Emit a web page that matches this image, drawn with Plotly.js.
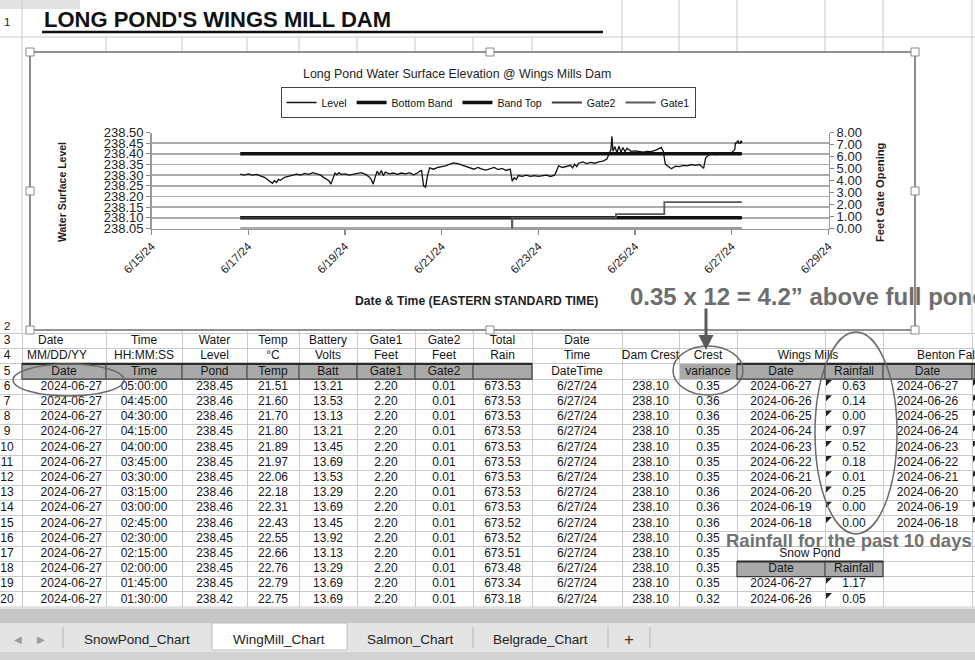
<!DOCTYPE html>
<html><head><meta charset="utf-8">
<script src="https://cdn.plot.ly/plotly-3.0.1.min.js"></script>
<style>html,body{margin:0;padding:0;background:#fff;overflow:hidden;}#chart{width:975px;height:660px;}</style>
</head><body><div id="chart"></div>
<script>
// ---------------- chart data ----------------
const levelTime = [
"2024-06-16 20:00","2024-06-16 22:00","2024-06-17 00:00","2024-06-17 02:00","2024-06-17 04:00","2024-06-17 06:00",
"2024-06-17 08:00","2024-06-17 09:00","2024-06-17 10:00","2024-06-17 11:00","2024-06-17 12:00","2024-06-17 13:00",
"2024-06-17 14:00","2024-06-17 15:00","2024-06-17 16:00","2024-06-17 18:00","2024-06-17 20:00","2024-06-17 22:00",
"2024-06-18 00:00","2024-06-18 02:00","2024-06-18 04:00","2024-06-18 06:00","2024-06-18 08:00","2024-06-18 10:00",
"2024-06-18 12:00","2024-06-18 13:00","2024-06-18 14:00","2024-06-18 15:00","2024-06-18 16:00","2024-06-18 17:00",
"2024-06-18 18:00","2024-06-18 19:00","2024-06-18 20:00","2024-06-18 21:00","2024-06-18 22:00","2024-06-19 00:00",
"2024-06-19 02:00","2024-06-19 04:00","2024-06-19 06:00","2024-06-19 08:00","2024-06-19 10:00","2024-06-19 11:00",
"2024-06-19 12:00","2024-06-19 13:00","2024-06-19 14:00","2024-06-19 15:00","2024-06-19 16:00","2024-06-19 17:00",
"2024-06-19 18:00","2024-06-19 19:00","2024-06-19 20:00","2024-06-19 22:00","2024-06-20 00:00","2024-06-20 02:00",
"2024-06-20 04:00","2024-06-20 06:00","2024-06-20 08:00","2024-06-20 10:00","2024-06-20 12:00","2024-06-20 13:00",
"2024-06-20 14:00","2024-06-20 15:00","2024-06-20 16:00","2024-06-20 17:00","2024-06-20 18:00","2024-06-20 20:00",
"2024-06-20 22:00","2024-06-21 00:00","2024-06-21 02:00","2024-06-21 04:00","2024-06-21 06:00","2024-06-21 08:00",
"2024-06-21 10:00","2024-06-21 12:00","2024-06-21 14:00","2024-06-21 16:00","2024-06-21 18:00","2024-06-21 20:00",
"2024-06-21 22:00","2024-06-22 00:00","2024-06-22 02:00","2024-06-22 04:00","2024-06-22 06:00","2024-06-22 08:00",
"2024-06-22 10:00","2024-06-22 11:00","2024-06-22 12:00","2024-06-22 13:00","2024-06-22 14:00","2024-06-22 16:00",
"2024-06-22 18:00","2024-06-22 20:00","2024-06-22 22:00","2024-06-23 00:00","2024-06-23 02:00","2024-06-23 04:00",
"2024-06-23 06:00","2024-06-23 08:00","2024-06-23 09:00","2024-06-23 10:00","2024-06-23 12:00","2024-06-23 14:00",
"2024-06-23 16:00","2024-06-23 17:00","2024-06-23 18:00","2024-06-23 19:00","2024-06-23 20:00","2024-06-23 22:00",
"2024-06-24 00:00","2024-06-24 02:00","2024-06-24 04:00","2024-06-24 06:00","2024-06-24 08:00","2024-06-24 10:00",
"2024-06-24 11:00","2024-06-24 12:00","2024-06-24 12:30","2024-06-24 13:00","2024-06-24 14:00","2024-06-24 15:00",
"2024-06-24 16:00","2024-06-24 17:00","2024-06-24 18:00","2024-06-24 19:00","2024-06-24 20:00","2024-06-24 22:00",
"2024-06-25 00:00","2024-06-25 02:00","2024-06-25 04:00","2024-06-25 06:00","2024-06-25 08:00","2024-06-25 10:00",
"2024-06-25 12:00","2024-06-25 13:00","2024-06-25 14:00","2024-06-25 15:00","2024-06-25 16:00","2024-06-25 18:00",
"2024-06-25 20:00","2024-06-25 22:00","2024-06-26 00:00","2024-06-26 02:00","2024-06-26 04:00","2024-06-26 06:00",
"2024-06-26 08:00","2024-06-26 10:00","2024-06-26 11:00","2024-06-26 12:00","2024-06-26 14:00","2024-06-26 16:00",
"2024-06-26 18:00","2024-06-26 20:00","2024-06-26 22:00","2024-06-27 00:00","2024-06-27 01:00","2024-06-27 01:30",
"2024-06-27 01:45","2024-06-27 02:00","2024-06-27 02:15","2024-06-27 02:30","2024-06-27 02:45","2024-06-27 03:00",
"2024-06-27 03:15","2024-06-27 03:30","2024-06-27 03:45","2024-06-27 04:00","2024-06-27 04:15","2024-06-27 04:30",
"2024-06-27 04:45","2024-06-27 05:00"];
const levelValue = [
238.305,238.300,238.306,238.300,238.304,238.298,
238.290,238.283,238.276,238.268,238.262,238.274,
238.266,238.280,238.276,238.290,238.296,238.302,
238.305,238.300,238.308,238.304,238.312,238.306,
238.300,238.292,238.286,238.280,238.274,238.258,
238.290,238.310,238.302,238.312,238.304,238.306,
238.300,238.305,238.310,238.312,238.305,238.298,
238.292,238.280,238.258,238.292,238.318,238.302,
238.322,238.298,238.314,238.306,238.310,238.304,
238.310,238.306,238.312,238.302,238.310,238.318,
238.322,238.250,238.244,238.300,238.334,238.328,
238.336,238.340,238.344,238.352,238.358,238.354,
238.348,238.340,238.334,238.328,238.336,238.328,
238.324,238.330,238.336,238.326,238.332,238.322,
238.328,238.272,238.288,238.280,238.298,238.294,
238.300,238.294,238.298,238.294,238.298,238.300,
238.294,238.300,238.320,238.344,238.336,238.342,
238.346,238.334,238.352,238.340,238.356,238.362,
238.354,238.360,238.356,238.362,238.366,238.376,
238.400,238.420,238.482,238.412,238.434,238.404,
238.436,238.408,238.430,238.410,238.426,238.412,
238.414,238.410,238.408,238.412,238.410,238.416,
238.424,238.430,238.412,238.352,238.344,238.330,
238.342,238.340,238.346,238.344,238.350,238.346,
238.350,238.332,238.380,238.390,238.400,238.396,
238.400,238.402,238.400,238.406,238.415,238.42,
238.45,238.45,238.45,238.45,238.46,238.46,
238.46,238.45,238.45,238.45,238.45,238.46,
238.46,238.45];
const bandTime = ["2024-06-16 20:00","2024-06-27 05:00"];
const bottomBand = [238.10, 238.10];
const bandTop = [238.40, 238.40];
const gate2Time = ["2024-06-16 20:00","2024-06-22 11:00","2024-06-27 05:00"];
const gate2Value = [0.90, 0.01, 0.01];
const gate1Time = ["2024-06-16 20:00","2024-06-22 11:00","2024-06-24 14:30","2024-06-25 14:30","2024-06-27 05:00"];
const gate1Value = [0.01, 0.90, 1.20, 2.20, 2.20];
const xTickStart = "2024-06-15", xTickEnd = "2024-06-29";

// ---------------- sheet data ----------------
const headerRow3 = ["Date","Time","Water","Temp","Battery","Gate1","Gate2","Total","Date","","","","","",""];
const headerRow4 = ["MM/DD/YY","HH:MM:SS","Level","°C","Volts","Feet","Feet","Rain","Time","Dam Crest","Crest","","","",""];
const headerRow5 = ["Date","Time","Pond","Temp","Batt","Gate1","Gate2","","DateTime","","variance","Date","Rainfall","Date",""];
const readDate = ["2024-06-27","2024-06-27","2024-06-27","2024-06-27","2024-06-27","2024-06-27","2024-06-27","2024-06-27","2024-06-27","2024-06-27","2024-06-27","2024-06-27","2024-06-27","2024-06-27","2024-06-27"];
const readTime = ["05:00:00","04:45:00","04:30:00","04:15:00","04:00:00","03:45:00","03:30:00","03:15:00","03:00:00","02:45:00","02:30:00","02:15:00","02:00:00","01:45:00","01:30:00"];
const pond = [238.45,238.46,238.46,238.45,238.45,238.45,238.45,238.46,238.46,238.46,238.45,238.45,238.45,238.45,238.42];
const temp = [21.51,21.60,21.70,21.80,21.89,21.97,22.06,22.18,22.31,22.43,22.55,22.66,22.76,22.79,22.75];
const batt = [13.21,13.53,13.13,13.21,13.45,13.69,13.53,13.29,13.69,13.45,13.92,13.13,13.29,13.69,13.69];
const gate1Now = [2.20,2.20,2.20,2.20,2.20,2.20,2.20,2.20,2.20,2.20,2.20,2.20,2.20,2.20,2.20];
const gate2Now = [0.01,0.01,0.01,0.01,0.01,0.01,0.01,0.01,0.01,0.01,0.01,0.01,0.01,0.01,0.01];
const totalRain = [673.53,673.53,673.53,673.53,673.53,673.53,673.53,673.53,673.53,673.52,673.52,673.51,673.48,673.34,673.18];
const dateTimeCol = ["6/27/24","6/27/24","6/27/24","6/27/24","6/27/24","6/27/24","6/27/24","6/27/24","6/27/24","6/27/24","6/27/24","6/27/24","6/27/24","6/27/24","6/27/24"];
const damCrest = [238.10,238.10,238.10,238.10,238.10,238.10,238.10,238.10,238.10,238.10,238.10,238.10,238.10,238.10,238.10];
const crestVariance = [0.35,0.36,0.36,0.35,0.35,0.35,0.35,0.36,0.36,0.36,0.35,0.35,0.35,0.35,0.32];
const wingsDates = ["2024-06-27","2024-06-26","2024-06-25","2024-06-24","2024-06-23","2024-06-22","2024-06-21","2024-06-20","2024-06-19","2024-06-18"];
const wingsRain = [0.63,0.14,0.00,0.97,0.52,0.18,0.01,0.25,0.00,0.00];
const snowDates = ["2024-06-27","2024-06-26"];
const snowRain = [1.17,0.05];
const bentonDates = ["2024-06-27","2024-06-26","2024-06-25","2024-06-24","2024-06-23","2024-06-22","2024-06-21","2024-06-20","2024-06-19","2024-06-18"];
const tabNames = ["SnowPond_Chart","WingMill_Chart","Salmon_Chart","Belgrade_Chart","+"];

// ---------------- layout helpers ----------------
const F = 'Liberation Sans, Arial, sans-serif';
const PW = 975, PH = 660;
const px = v => v / PW, py = v => 1 - v / PH;
const colEdges = [0,22,106,182,247,299,357,415,473,532,622,679,737,825,883,972,975];
const TOP = 333.5, RH = 15.2, NROWS = 18;
const rowTop = r => TOP + (r - 3) * RH;
const f2 = v => v.toFixed(2);
const GRID = '#c9c9c9', GREY = '#a9a9a9', WH = '#ffffff';

// ---------------- chart traces ----------------
const data = [
 {type:'scatter', mode:'lines', name:'Level', x:levelTime, y:levelValue, line:{color:'#111', width:1.3}, xaxis:'x', yaxis:'y'},
 {type:'scatter', mode:'lines', name:'Bottom Band', x:bandTime, y:bottomBand, line:{color:'#111', width:3.5}, xaxis:'x', yaxis:'y'},
 {type:'scatter', mode:'lines', name:'Band Top', x:bandTime, y:bandTop, line:{color:'#111', width:3.5}, xaxis:'x', yaxis:'y'},
 {type:'scatter', mode:'lines', name:'Gate2', x:gate2Time, y:gate2Value, line:{color:'#3c3c3c', width:1.8, shape:'hv'}, xaxis:'x', yaxis:'y2'},
 {type:'scatter', mode:'lines', name:'Gate1', x:gate1Time, y:gate1Value, line:{color:'#5a5a5a', width:1.8, shape:'hv'}, xaxis:'x', yaxis:'y2'}
];

// ---------------- sheet cells (text trace on x3/y3: x = sheet pixels, y = row number) ----------------
const sx = [], sy = [], st = [], sp = [];
function cell(ci, r, t, al) {
  if (t === '' || t == null) return;
  const e0 = colEdges[ci], e1 = colEdges[ci + 1];
  let x, p;
  if (typeof al === 'number') { x = e0 + al; p = 'middle right'; }
  else if (al === 'r') { x = e1 - 4; p = 'middle left'; }
  else { x = (e0 + e1) / 2; p = 'middle center'; }
  sx.push(x); sy.push(r); st.push(t); sp.push(p);
}
headerRow3.forEach((t,i) => cell(i+1, 3, t, i === 0 ? 16 : 'c'));
headerRow4.forEach((t,i) => cell(i+1, 4, t, i === 0 ? 5 : 'c'));
headerRow5.forEach((t,i) => cell(i+1, 5, t, 'c'));
const dataCols = [readDate, readTime, pond.map(f2), temp.map(f2), batt.map(f2), gate1Now.map(f2), gate2Now.map(f2),
                  totalRain.map(f2), dateTimeCol, damCrest.map(f2), crestVariance.map(f2)];
dataCols.forEach((col,ci) => col.forEach((t,k) => cell(ci+1, 6+k, t, ci === 0 ? 'r' : 'c')));
wingsDates.forEach((t,k) => cell(12, 6+k, t, 'c'));
wingsRain.forEach((v,k) => cell(13, 6+k, f2(v), 'c'));
bentonDates.forEach((t,k) => cell(14, 6+k, t, 'c'));
cell(12, 18, 'Date', 'c'); cell(13, 18, 'Rainfall', 'c');
snowDates.forEach((t,k) => cell(12, 19+k, t, 'c'));
snowRain.forEach((v,k) => cell(13, 19+k, f2(v), 'c'));
// merged-cell captions
sx.push(808); sy.push(4); st.push('Wings Mills'); sp.push('middle center');
sx.push(917); sy.push(4); st.push('Benton Falls'); sp.push('middle right');
sx.push(810); sy.push(17); st.push('Snow Pond'); sp.push('middle center');
// row numbers
for (let r = 3; r <= 20; r++) { sx.push(7); sy.push(r); st.push(String(r)); sp.push('middle center'); }

data.push({type:'scatter', mode:'text', x:sx, y:sy, text:st, textposition:sp, xaxis:'x3', yaxis:'y3',
  textfont:{family:F, size:12, color:'#151515'}, showlegend:false, hoverinfo:'skip', cliponaxis:true});

// ---------------- shapes ----------------
const shapes = [];
const L = (x0,y0,x1,y1,color,width,layer) => shapes.push({type:'line', xref:'paper', yref:'paper', x0:px(x0), y0:py(y0), x1:px(x1), y1:py(y1), line:{color, width}, layer: layer || 'below'});
const R = (x0,y0,x1,y1,fill,lc,lw,layer) => shapes.push({type:'rect', xref:'paper', yref:'paper', x0:px(x0), y0:py(y0), x1:px(x1), y1:py(y1), fillcolor: fill, line:{color: lc || 'rgba(0,0,0,0)', width: lw || 0}, layer: layer || 'below'});

R(0,0,80,9,'#e2e2e2');
L(22,0,22,TOP,GRID,1);
[622,679,737,825,883,972].forEach(x => L(x,0,x,37,GRID,1));
L(0,37,975,37,GRID,1);
colEdges.slice(2,16).forEach(x => L(x,37,x,TOP,GRID,1));
L(0,TOP,975,TOP,GRID,1);
L(0,TOP+NROWS*RH,975,TOP+NROWS*RH,GRID,1);
L(42,32,603,32,'#111',2.5);
// grey shaded cells (sheet coords)
const shade = (ci, r) => shapes.push({type:'rect', xref:'x3', yref:'y3', x0:colEdges[ci], x1:colEdges[ci+1], y0:r-0.5, y1:r+0.5,
  fillcolor:GREY, line:{width:0}, layer:'below'});
[1,2,3,4,5,6,7,8,11,12,13,14,15].forEach(ci => shade(ci, 5));
[12,13].forEach(ci => shade(ci, 18));
// chart area
R(30,52,915,330,WH,'#6f6f6f',1.6);
[[30,52],[490,52],[915,52],[30,191],[915,191],[30,330],[490,330],[915,330]].forEach(([x,y]) =>
  R(x-4,y-4,x+4,y+4,WH,'#8a8a8a',1,'above'));
// dark borders of shaded header cells
const darkBox = (x0,x1,r,seps) => {
  const t = rowTop(r), b = rowTop(r+1);
  R(x0,t,x1,b,'rgba(0,0,0,0)','#3a3a3a',1.2,'above');
  L(x0,t,x1,t,'#2a2a2a',2.2,'above');
  seps.forEach(x => L(x,t,x,b,'#3a3a3a',1.2,'above'));
};
darkBox(22,532,5,[106,182,247,299,357,415,473]);
darkBox(737,975,5,[825,883,972]);
darkBox(737,883,18,[825]);
// comment markers
const tri = (x,r) => shapes.push({type:'path', xref:'paper', yref:'paper', layer:'above',
  path:`M ${px(x+1)} ${py(rowTop(r)+1)} L ${px(x+7)} ${py(rowTop(r)+1)} L ${px(x+1)} ${py(rowTop(r)+7)} Z`,
  fillcolor:'#222', line:{width:0}});
wingsRain.forEach((v,i) => tri(825, 6+i));
snowRain.forEach((v,i) => tri(825, 19+i));
bentonDates.forEach((v,i) => tri(972, 6+i));
// ellipses
const E = (x0,y0,x1,y1) => shapes.push({type:'circle', xref:'paper', yref:'paper', layer:'above',
  x0:px(x0), y0:py(y0), x1:px(x1), y1:py(y1), line:{color:'#6a6a6a', width:1.5}});
E(13,364,124,396);
E(673,346,743,395);
E(815,332,897,534);
// scrollbar + tabs
R(0,608.5,975,623,'#c6c6c6');
R(0,623,975,652,'#e4e4e4');
R(212,623,347,650,WH,'#bdbdbd',1);
[63,473,608,650].forEach(x => L(x,627,x,648,'#b8b8b8',1));
R(0,652,975,660,'#d2d2d2');

// ---------------- annotations ----------------
const ann = [];
const T = (t,x,y,size,o) => ann.push(Object.assign({text:t, x:px(x), y:py(y), xref:'paper', yref:'paper', showarrow:false,
  xanchor:'center', yanchor:'middle', font:{family:F, size:size, color:'#1e1e1e'}}, o || {}));
T("<b>LONG POND'S WINGS MILL DAM</b>",42,19,22,{xanchor:'left', font:{family:F, size:22, color:'#111'}});
T("1",7,22,11.5);
T("2",7,326,11.5);
T("Long Pond Water Surface Elevation @ Wings Mills Dam",457,74,12.4);
T("<b>Water Surface Level</b>",62,192,10.5,{textangle:-90});
T("<b>Feet Gate Opening</b>",880,192,11.2,{textangle:-90});
T("<b>Date & Time (EASTERN STANDARD TIME)</b>",476,301,12.2);
T("<b>0.35 x 12 = 4.2\u201d above full pond</b>",628,296,24,{xanchor:'left', font:{family:F, size:24, color:'#6e6e6e'}});
T("<b>Rainfall for the past 10 days</b>",724,540,18.5,{xanchor:'left', font:{family:F, size:18.5, color:'#727272'}});
ann.push({x:px(706), y:py(350), ax:px(706), ay:py(307), xref:'paper', yref:'paper', axref:'paper', ayref:'paper',
  text:'', showarrow:true, arrowhead:2, arrowsize:1, arrowwidth:3, arrowcolor:'#5a5a5a', standoff:0});
T("\u25C0",18,639,10,{font:{family:'DejaVu Sans', size:10, color:'#9c9c9c'}});
T("\u25B6",41,639,10,{font:{family:'DejaVu Sans', size:10, color:'#9c9c9c'}});
const tabCenters = [137,279,410,540,629];
tabNames.forEach((t,i) => T(t, tabCenters[i], 639, i === 4 ? 17 : 13.5,
  i === 4 ? {font:{family:F, size:17, color:'#333'}} : {font:{family:F, size:13.5, color:'#222'}}));

// ---------------- layout ----------------
const axFont = {family:F, size:13, color:'#222'};
const layout = {
 width:PW, height:PH, margin:{l:0,r:0,t:0,b:0}, paper_bgcolor:'#fff', plot_bgcolor:'rgba(0,0,0,0)',
 showlegend:true,
 legend:{orientation:'h', x:px(488), y:py(87), xanchor:'center', yanchor:'top', bgcolor:'#fff',
   bordercolor:'#444', borderwidth:1, font:{family:F, size:10.5, color:'#111'}, itemwidth:30},
 xaxis:{type:'date', domain:[px(151.6), px(828.5)], range:[xTickStart, xTickEnd], tickmode:'linear', tick0:xTickStart,
   dtick:172800000, tickformat:'%-m/%-d/%y', tickangle:-45, ticks:'outside', ticklen:5, tickwidth:1.3, tickcolor:'#888',
   showgrid:false, showline:true, linecolor:'#9a9a9a', linewidth:1.5, zeroline:false,
   tickfont:{family:F, size:11.5, color:'#222'}, anchor:'y', fixedrange:true},
 yaxis:{domain:[py(228.5), py(132.5)], range:[238.0499, 238.5001], tickmode:'linear', tick0:238.05, dtick:0.05,
   tickformat:'.2f', ticks:'outside', ticklen:4, tickcolor:'#888', showgrid:true, gridcolor:'#ababab', gridwidth:1.5,
   showline:true, linecolor:'#9a9a9a', linewidth:1.5, zeroline:false, tickfont:axFont, anchor:'x', fixedrange:true},
 yaxis2:{overlaying:'y', side:'right', anchor:'x', range:[0,8], tickmode:'linear', tick0:0, dtick:1, tickformat:'.2f',
   ticks:'outside', ticklen:4, tickcolor:'#888', showgrid:false, showline:true, linecolor:'#9a9a9a', linewidth:1.5,
   zeroline:false, tickfont:axFont, fixedrange:true},
 xaxis3:{domain:[0,1], range:[0,PW], anchor:'y3', tickmode:'array', tickvals:colEdges.slice(1,16), showticklabels:false,
   ticks:'', showgrid:true, gridcolor:GRID, gridwidth:1, zeroline:false, showline:false, fixedrange:true},
 yaxis3:{domain:[py(TOP + NROWS*RH), py(TOP)], range:[20.5, 2.5], anchor:'x3', tickmode:'array',
   tickvals:[3.5,4.5,5.5,6.5,7.5,8.5,9.5,10.5,11.5,12.5,13.5,14.5,15.5,16.5,17.5,18.5,19.5], showticklabels:false,
   ticks:'', showgrid:true, gridcolor:GRID, gridwidth:1, zeroline:false, showline:false, fixedrange:true},
 shapes: shapes,
 annotations: ann
};
Plotly.newPlot('chart', data, layout, {staticPlot:true, displayModeBar:false});
</script></body></html>
